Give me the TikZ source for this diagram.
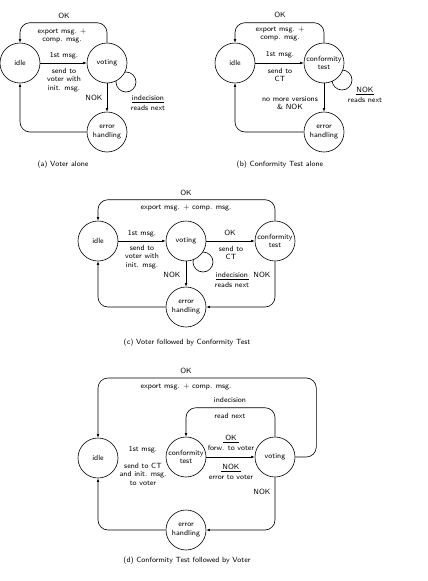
\documentclass[tikz,border=0pt]{standalone}
\usetikzlibrary{arrows.meta}
\begin{document}
\begin{tikzpicture}[x=1pt,y=-1pt,
  every node/.style={font=\sffamily\fontsize{7.5}{8.5}\selectfont, inner sep=0pt, align=center},
  st/.style={draw, circle, minimum size=40pt, fill=white, line width=0.6pt},
  arr/.style={-{Latex[length=3.5pt,width=2.6pt]}, line width=0.6pt, rounded corners=10pt},
  ln/.style={line width=0.6pt},
  captxt/.style={font=\sffamily\fontsize{7.5}{8.5}\selectfont}]
\useasboundingbox (0,0) rectangle (428,581);
% self loops (drawn first, covered by state circles)
\coordinate (loopA) at (126,82);
\coordinate (loopB) at (342,80);
\coordinate (loopC) at (203,262);
\draw[ln] (loopA) circle[radius=10pt];
\draw[ln] (loopB) circle[radius=10pt];
\draw[ln] (loopC) circle[radius=10pt];

% ---------------- (a)
\node[st] (idleA) at (20,63) {idle};
\node[st] (votA) at (107,63) {voting};
\node[st] (errA) at (107,132) {error\\handling};
\draw[arr] (votA.north) -- ++(0,-20) -| (idleA.north);
\draw[arr] (idleA) -- (votA);
\draw[arr] (votA) -- (errA);
\draw[arr] (errA.west) -| (idleA.south);
\node (okA) at (64,16) {OK};
\node (exA) at (62,36) {export msg. +\\comp. msg.};
\node (fmA) at (64,56) {1st msg.};
\node (stA) at (64,80) {send to\\voter with\\init. msg.};
\node (nokA) at (94,98) {NOK};
\node (indA) at (148,103) {\underline{\makebox[32pt]{indecision}}\\[2pt]reads next};
\node[captxt] (capA) at (63,165) {(a) Voter alone};

% ---------------- (b)
\node[st] (idleB) at (235,63) {idle};
\node[st] (ctB) at (324,63) {conformity\\test};
\node[st] (errB) at (324,132) {error\\handling};
\draw[arr] (ctB.north) -- ++(0,-20) -| (idleB.north);
\draw[arr] (idleB) -- (ctB);
\draw[arr] (ctB) -- (errB);
\draw[arr] (errB.west) -| (idleB.south);
\node (okB) at (280,15) {OK};
\node (exB) at (280,34) {export msg. +\\comp. msg.};
\node (fmB) at (280,55) {1st msg.};
\node (stB) at (280,75) {send to\\CT};
\node (nmB) at (290,103) {no more versions\\\& NOK};
\node (nokB) at (365,95) {\underline{\makebox[18pt]{NOK}}\\[2pt]reads next};
\node[captxt] (capB) at (280,165) {(b) Conformity Test alone};

% ---------------- (c)
\node[st] (idleC) at (98,241) {idle};
\node[st] (votC) at (186,241) {voting};
\node[st] (ctC) at (275,241) {conformity\\test};
\node[st] (errC) at (186,307) {error\\handling};
\draw[arr] (ctC.north) -- ++(0,-21) -| (idleC.north);
\draw[arr] (idleC) -- (votC);
\draw[arr] (votC) -- (ctC);
\draw[arr] (votC) -- (errC);
\draw[arr] (ctC.south) |- (errC.east);
\draw[arr] (errC.west) -| (idleC.south);
\node (okC) at (186,193) {OK};
\node (exC) at (186,208) {export msg. + comp. msg.};
\node (fmC) at (142,234) {1st msg.};
\node (stC) at (142,257) {send to\\voter with\\init. msg.};
\node (ok2C) at (230,233) {OK};
\node (sctC) at (231,253) {send to\\CT};
\node (indC) at (232,280) {\underline{\makebox[33pt]{indecision}}\\[2pt]reads next};
\node (nokC) at (172,275) {NOK};
\node (nok2C) at (262,275) {NOK};
\node[captxt] (capC) at (187,343) {(c) Voter followed by Conformity Test};

% ---------------- (d)
\node[st] (idleD) at (98,458) {idle};
\node[st] (ctD) at (186,457) {conformity\\test};
\node[st] (votD) at (275,457) {voting};
\node[st] (errD) at (186,530) {error\\handling};
\draw[arr] (votD.east) -- ++(21,0) -- ++(0,-79) -| (idleD.north);
\draw[arr] (votD.north) -- ++(0,-29) -| (ctD.north);
\draw[arr] (ctD) -- (votD);
\draw[arr] (votD.south) |- (errD.east);
\draw[arr] (errD.west) -| (idleD.south);
\node (okD) at (186,371) {OK};
\node (exD) at (186,387) {export msg. + comp. msg.};
\node (indD) at (230,400) {indecision};
\node (rnD) at (230,416) {read next};
\node (okfD) at (231,443) {\underline{\makebox[16pt]{OK}}\\[2pt]forw. to voter};
\node (nokfD) at (231,472) {\underline{\makebox[20pt]{NOK}}\\[2pt]error to voter};
\node (fmD) at (143,450) {1st msg.};
\node (stD) at (143,474) {send to CT\\and init. msg.\\to voter};
\node (nokD) at (262,492) {NOK};
\node[captxt] (capD) at (187,561) {(d) Conformity Test followed by Voter};
\end{tikzpicture}
\end{document}
